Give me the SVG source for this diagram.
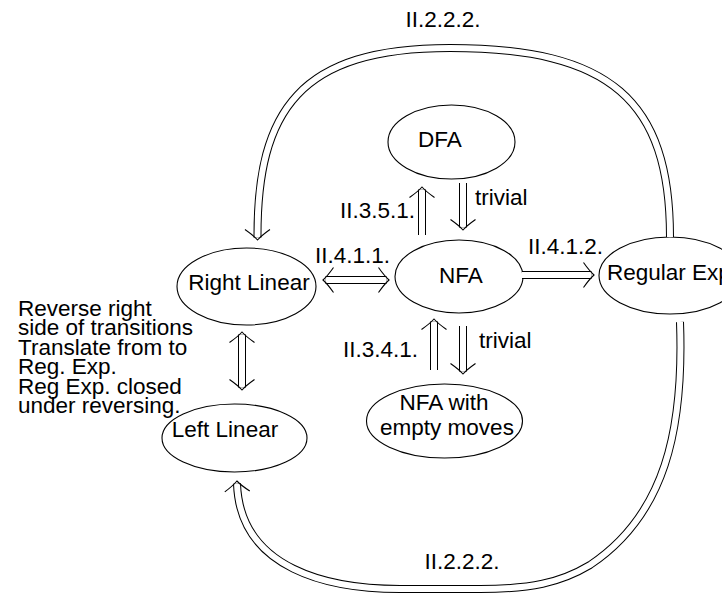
<svg xmlns="http://www.w3.org/2000/svg" width="722" height="593" viewBox="0 0 722 593">
<style>
text{font-family:"Liberation Sans",Arial,sans-serif;font-size:22.5px;fill:#000}
.node{fill:#fff;stroke:#000;stroke-width:1.1}
.o{fill:none;stroke:#000;stroke-width:8}
.i{fill:none;stroke:#fff;stroke-width:6}
.m{text-anchor:middle}
.e{text-anchor:end}
</style>
<defs>
<marker id="imp" markerUnits="userSpaceOnUse" markerWidth="40" markerHeight="40" viewBox="-20 -20 40 40" refX="0" refY="0" orient="auto-start-reverse" overflow="visible">
<path d="M -8 -12.5 Q -2 -4 2.5 0 Q -2 4 -8 12.5" fill="none" stroke="#000" stroke-width="1.1"/>
</marker>
<path id="a1" d="M 422 235 L 422 189.5"/>
<path id="a2" d="M 463 183 L 463 227.5"/>
<path id="a3" d="M 434 370 L 434 321.5"/>
<path id="a4" d="M 463 326 L 463 371.5"/>
<path id="a5" d="M 325.5 280 L 386.5 280"/>
<path id="a6" d="M 522 275 L 591.5 275"/>
<path id="a7" d="M 242 334.5 L 242 387.5"/>
<path id="a8" d="M 670 237 C 670 100 610 48 450 48 C 300 48 257 110 257.5 237.5"/>
<path id="a9" d="M 680 322 C 684 430 665 515 590 565 C 560 583 530 589 480 589 L 400 589 C 330 589 240 570 237 483.5"/>
</defs>
<g id="nodes">
<g id="dfa"><ellipse class="node" cx="451.5" cy="142" rx="63.5" ry="37"/><text class="m" x="440" y="147">DFA</text></g>
<g id="nfa"><ellipse class="node" cx="459" cy="276.5" rx="64" ry="36.5"/><text class="m" x="461" y="283">NFA</text></g>
<g id="enfa"><ellipse class="node" cx="444.5" cy="421" rx="78" ry="37"/><text class="m" x="444" y="410">NFA with</text><text class="m" x="447" y="435">empty moves</text></g>
<g id="rl"><ellipse class="node" cx="246.5" cy="286.5" rx="69.5" ry="38.5"/><text class="m" x="249" y="290">Right Linear</text></g>
<g id="ll"><ellipse class="node" cx="234.5" cy="438" rx="72.5" ry="34"/><text class="m" x="225" y="437">Left Linear</text></g>
<g id="re"><ellipse class="node" cx="670" cy="275.5" rx="71" ry="38.5"/><text x="607" y="280">Regular Exp</text></g>
</g>
<g id="connectors">
<use href="#a1" class="o"/><use href="#a1" class="i" marker-end="url(#imp)"/>
<use href="#a2" class="o"/><use href="#a2" class="i" marker-end="url(#imp)"/>
<use href="#a3" class="o"/><use href="#a3" class="i" marker-end="url(#imp)"/>
<use href="#a4" class="o"/><use href="#a4" class="i" marker-end="url(#imp)"/>
<use href="#a5" class="o"/><use href="#a5" class="i" marker-start="url(#imp)" marker-end="url(#imp)"/>
<use href="#a6" class="o"/><use href="#a6" class="i" marker-end="url(#imp)"/>
<use href="#a7" class="o"/><use href="#a7" class="i" marker-start="url(#imp)" marker-end="url(#imp)"/>
<use href="#a8" class="o"/><use href="#a8" class="i" marker-end="url(#imp)"/>
<use href="#a9" class="o"/><use href="#a9" class="i" marker-end="url(#imp)"/>
</g>
<g id="labels">
<text class="m" x="443" y="27">II.2.2.2.</text>
<text class="m" x="462" y="569">II.2.2.2.</text>
<text class="e" x="415" y="218">II.3.5.1.</text>
<text x="475" y="205">trivial</text>
<text x="315" y="263">II.4.1.1.</text>
<text x="528" y="254">II.4.1.2.</text>
<text class="e" x="418" y="357">II.3.4.1.</text>
<text x="479" y="348">trivial</text>
<text x="18" y="316">Reverse right<tspan x="18" dy="19.4">side of transitions</tspan><tspan x="18" dy="19.4">Translate from to</tspan><tspan x="18" dy="19.4">Reg. Exp.</tspan><tspan x="18" dy="19.4">Reg Exp. closed</tspan><tspan x="18" dy="19.4">under reversing.</tspan></text>
</g>
</svg>
